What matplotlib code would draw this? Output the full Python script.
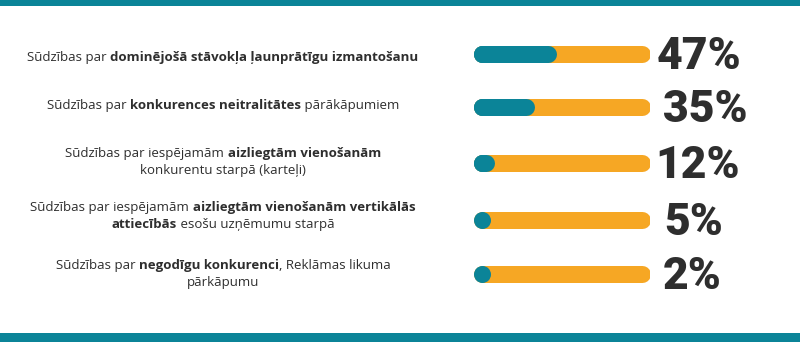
import matplotlib.pyplot as plt

# data
values = [47, 35, 12, 5, 2]
labels = [
    [[("Sūdzības par ", False), ("dominējošā stāvokļa ļaunprātīgu izmantošanu", True)]],
    [[("Sūdzības par ", False), ("konkurences neitralitātes", True), (" pārākāpumiem", False)]],
    [[("Sūdzības par iespējamām ", False), ("aizliegtām vienošanām", True)],
     [("konkurentu starpā (karteļi)", False)]],
    [[("Sūdzības par iespējamām ", False), ("aizliegtām vienošanām vertikālās", True)],
     [("attiecībās", True), (" esošu uzņēmumu starpā", False)]],
    [[("Sūdzības par ", False), ("negodīgu konkurenci", True), (", Reklāmas likuma", False)],
     [("pārkāpumu", False)]],
]

# layout (pixels)
bar_y = [54, 107, 163, 220, 274]
text_y = [61, 109, 157, 211, 269]
pct_x = [657, 663, 655, 664, 663]
line_gap = 17
text_cx = 223

teal = "#0b8498"
orange = "#f6a724"
dark = "#2e2e2e"

fig = plt.figure(figsize=(8, 3.42), dpi=100)
bg = fig.add_axes([0, 0, 1, 1])
bg.set_xlim(0, 800)
bg.set_ylim(342, 0)
bg.axis("off")
bg.axhspan(0, 6, color=teal, lw=0)
bg.axhspan(333, 342, color=teal, lw=0)

ax = fig.add_axes([473 / 800, 0, 177 / 800, 1])
ax.set_xlim(0, 100)
ax.set_ylim(342, 0)
ax.axis("off")

lw = 17 * 72 / 100
cap = 8.5 / 177 * 100
for y, v, px in zip(bar_y, values, pct_x):
    ax.plot([cap, 100 - cap], [y, y], color=orange, lw=lw, solid_capstyle="round")
    end = max(v - cap, cap)
    ax.plot([cap, end], [y, y], color=teal, lw=lw, solid_capstyle="round")
    ax.plot([cap], [y], marker="o", ms=lw, color=teal, mew=0)
    bg.text(px, y + 15, f"{v}%", fontsize=32, fontweight="black", family="Roboto",
            color=dark, ha="left", va="baseline")

# labels with mixed bold / regular pieces, centred per line
renderer = fig.canvas.get_renderer()
for row, y0 in zip(labels, text_y):
    for k, line in enumerate(row):
        y = y0 + k * line_gap
        pieces = []
        for txt, bold in line:
            t = bg.text(0, y, txt, fontsize=9.5, family="Open Sans",
                        fontweight="bold" if bold else "normal",
                        color=dark, ha="left", va="baseline")
            w = t.get_window_extent(renderer).width
            pieces.append((t, w))
        total = sum(w for _, w in pieces)
        x = text_cx - total / 2
        for t, w in pieces:
            t.set_x(x)
            x += w

fig.savefig("out.png", dpi=100)
